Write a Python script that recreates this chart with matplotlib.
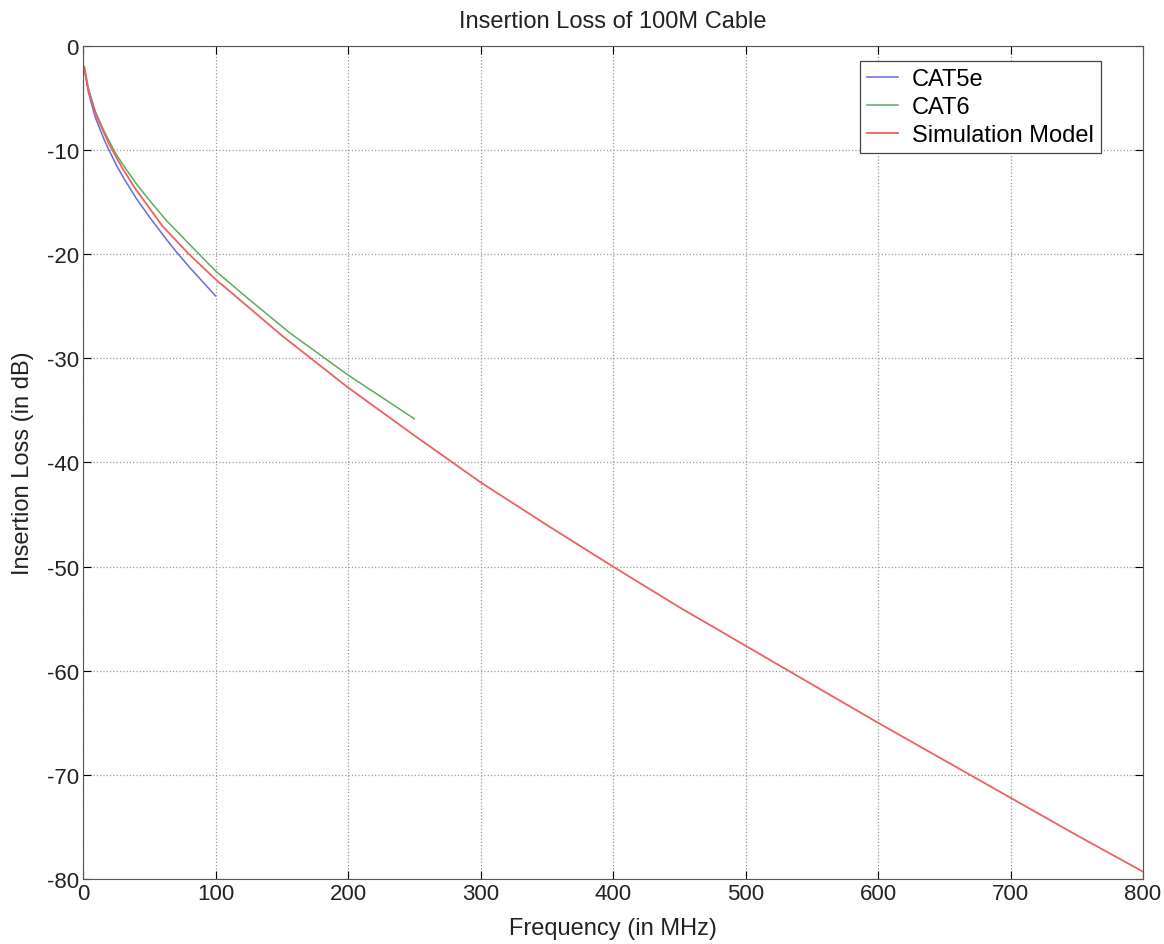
import numpy as np
import matplotlib
matplotlib.use('Agg')
from matplotlib import pyplot as plt

# values (frequency in MHz, loss in dB)
freq_cat5e = [1, 4, 8, 10, 16, 20, 25, 31.25, 40, 50, 62.5, 70, 80, 90, 100]
loss_cat5e = [-2.2, -4.4, -6.3, -7.1, -9.0, -10.1, -11.4, -12.8, -14.6, -16.4,
              -18.5, -19.7, -21.2, -22.6, -24.0]

freq_cat6 = [1, 4, 8, 10, 16, 20, 25, 31.25, 40, 50, 62.5, 80, 100, 125,
             155.5, 175, 200, 225, 250]
loss_cat6 = [-2.2, -4.1, -5.8, -6.5, -8.2, -9.2, -10.4, -11.6, -13.2, -14.8,
             -16.7, -19.0, -21.6, -24.3, -27.5, -29.3, -31.6, -33.7, -35.8]

freq_sim = [1, 4, 10, 20, 30, 40, 60, 80, 100, 150, 200, 250, 300, 350, 400,
            450, 500, 550, 600, 650, 700, 750, 800]
loss_sim = [-2.0, -4.1, -6.7, -9.5, -11.8, -13.8, -17.3, -20.0, -22.4, -27.8,
            -32.8, -37.4, -41.9, -46.0, -50.0, -53.9, -57.6, -61.3, -65.0,
            -68.6, -72.2, -75.8, -79.3]

plt.rcParams['font.family'] = ['Liberation Sans', 'DejaVu Sans']
plt.rcParams['axes.unicode_minus'] = False

fig = plt.figure(figsize=(11.64, 9.45), dpi=100)
ax = fig.add_axes([0.0713, 0.0688, 0.9107, 0.8815])

ax.plot(freq_cat5e, loss_cat5e, color='#6a6ae0', lw=1.1, label='CAT5e')
ax.plot(freq_cat6, loss_cat6, color='#5aae5a', lw=1.1, label='CAT6')
ax.plot(freq_sim, loss_sim, color='#f06060', lw=1.3, label='Simulation Model')

ax.set_xlim(0, 800)
ax.set_ylim(-80, 0)
ax.set_xticks(np.arange(0, 801, 100))
ax.set_yticks(np.arange(-80, 1, 10))
ax.grid(True, linestyle=':', color='#999999', linewidth=0.9)
ax.tick_params(direction='in', labelsize=16, length=6, top=True, right=True,
               labelcolor='#222222', pad=3)
for s in ax.spines.values():
    s.set_color('#555555')

ax.set_title('Insertion Loss of 100M Cable', fontsize=17, pad=14, color='#222222')
ax.set_xlabel('Frequency (in MHz)', fontsize=17, labelpad=9, color='#222222')
ax.set_ylabel('Insertion Loss (in dB)', fontsize=17, labelpad=9, color='#222222')

leg = ax.legend(loc='upper right', bbox_to_anchor=(0.960, 0.982), fontsize=17,
                fancybox=False, framealpha=1, edgecolor='#444444',
                handlelength=1.3, handletextpad=0.6, borderpad=0.3,
                labelspacing=0.25, borderaxespad=0)
leg.get_frame().set_linewidth(0.9)

plt.savefig('out.png')
